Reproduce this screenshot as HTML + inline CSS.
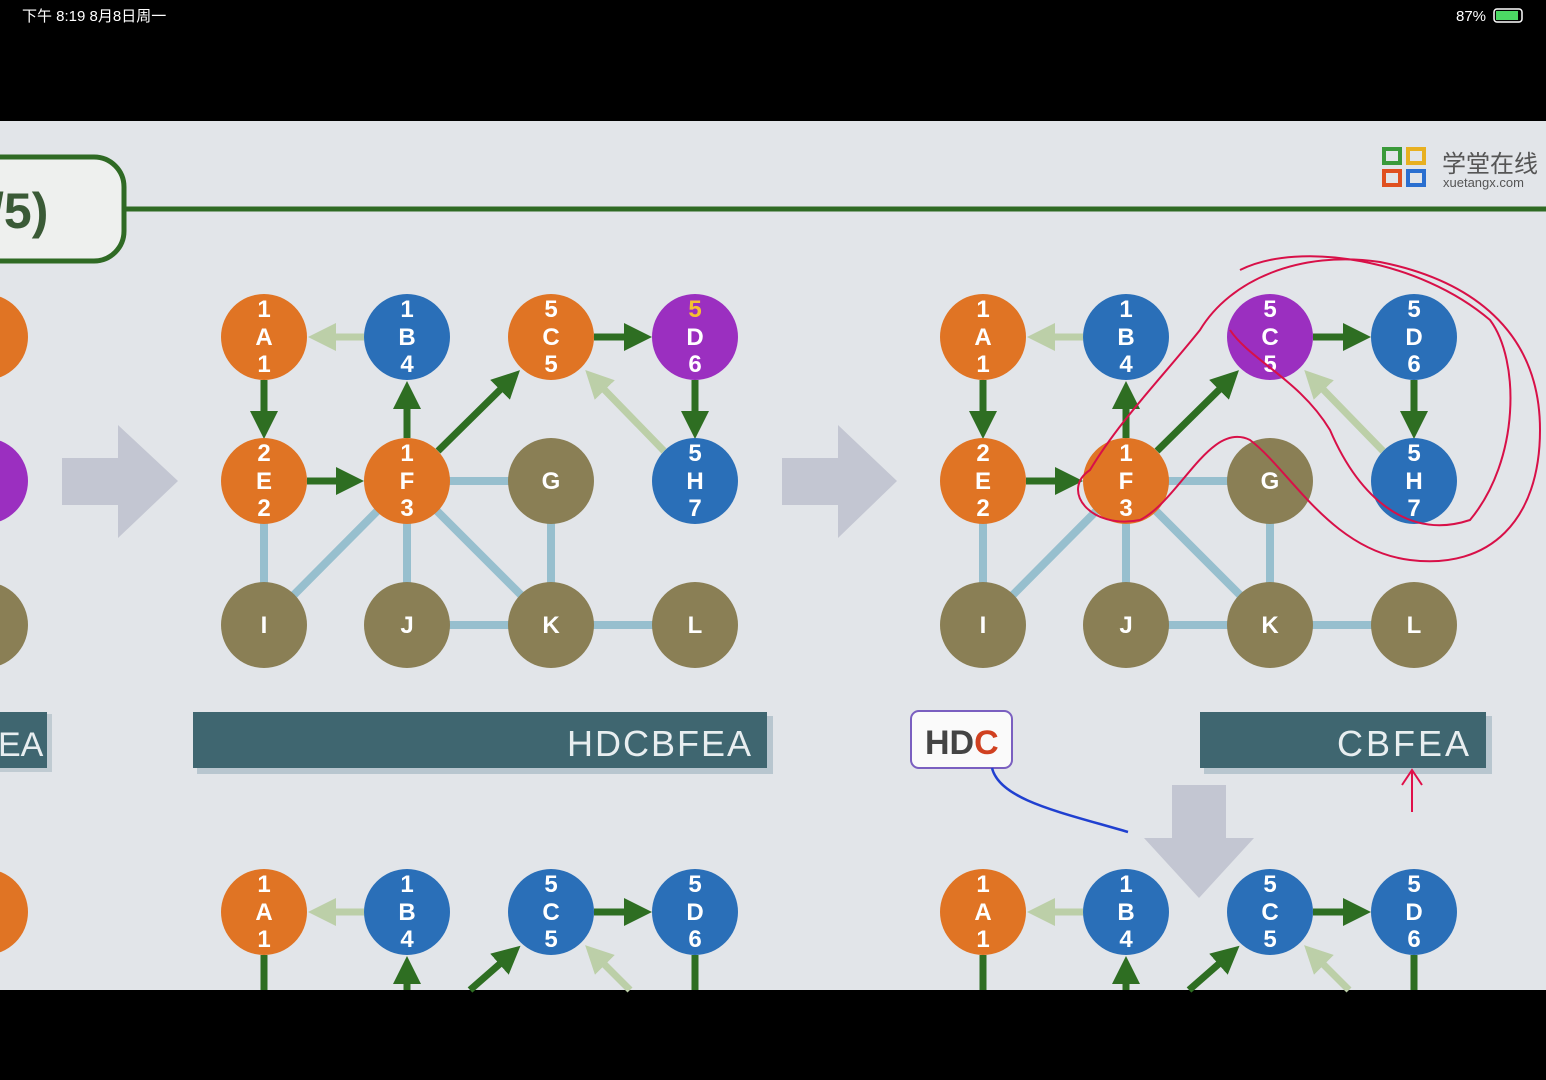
<!DOCTYPE html>
<html><head><meta charset="utf-8"><style>
html,body{margin:0;padding:0;background:#000;width:1546px;height:1080px;overflow:hidden}
svg{display:block}
text{font-family:"Liberation Sans","Noto Sans CJK SC",sans-serif}
.n{font-weight:bold;font-size:24px;fill:#fff;text-anchor:middle}
</style></head><body>
<svg width="1546" height="1080" viewBox="0 0 1546 1080" xmlns="http://www.w3.org/2000/svg">
<defs>
<marker id="ag" markerWidth="4" markerHeight="4" refX="2" refY="2" orient="auto" markerUnits="strokeWidth"><path d="M0,0 L4,2 L0,4z" fill="#2e6e22"/></marker>
<marker id="al" markerWidth="4" markerHeight="4" refX="2" refY="2" orient="auto" markerUnits="strokeWidth"><path d="M0,0 L4,2 L0,4z" fill="#bccfa8"/></marker>
</defs>
<rect x="0" y="0" width="1546" height="1080" fill="#000"/>
<text x="22" y="21" font-size="15" fill="#fff" font-family="Liberation Sans,Noto Sans CJK SC,sans-serif">下午 8:19   8月8日周一</text>
<text x="1456" y="21" font-size="15" fill="#fff">87%</text>
<rect x="1494" y="9" width="28" height="13" rx="3" fill="none" stroke="#fff" stroke-width="1.5"/>
<rect x="1496" y="11" width="22" height="9" fill="#4cd964"/>
<rect x="0" y="121" width="1546" height="869" fill="#e2e5e9"/>
<!-- header -->
<line x1="120" y1="209" x2="1546" y2="209" stroke="#2f6a24" stroke-width="5"/>
<rect x="-40" y="157" width="164" height="104" rx="30" fill="#eef0ee" stroke="#2f6a24" stroke-width="5"/>
<text x="-10" y="228" font-size="50" font-weight="bold" fill="#3a5a36">/5)</text>
<!-- logo -->
<g stroke-width="4" fill="none">
<rect x="1384" y="149" width="16" height="14" stroke="#3a9a3a"/><rect x="1408" y="149" width="16" height="14" stroke="#e8b020"/>
<rect x="1384" y="171" width="16" height="14" stroke="#e05020"/><rect x="1408" y="171" width="16" height="14" stroke="#2a6fd0"/>
</g>
<text x="1442" y="172" font-size="24" fill="#555">学堂在线</text>
<text x="1443" y="187" font-size="13" fill="#555">xuetangx.com</text>
<!-- big arrows -->
<path d="M62,458 H118 V425 L178,481 L118,538 V505 H62z" fill="#c3c6d2"/>
<path d="M782,458 H838 V425 L897,481 L838,538 V505 H782z" fill="#c3c6d2"/>
<path d="M1172,785 H1226 V838 H1254 L1199,898 L1144,838 H1172z" fill="#c3c6d2"/>
<!-- left graph edges -->
<g stroke="#97bfce" stroke-width="8">
<line x1="264" y1="481" x2="264" y2="625"/><line x1="407" y1="481" x2="264" y2="625"/><line x1="407" y1="481" x2="407" y2="625"/>
<line x1="407" y1="481" x2="551" y2="625"/><line x1="407" y1="481" x2="551" y2="481"/><line x1="551" y1="481" x2="551" y2="625"/>
<line x1="407" y1="625" x2="695" y2="625"/>
<line x1="983" y1="481" x2="983" y2="625"/><line x1="1126" y1="481" x2="983" y2="625"/><line x1="1126" y1="481" x2="1126" y2="625"/>
<line x1="1126" y1="481" x2="1270" y2="625"/><line x1="1126" y1="481" x2="1270" y2="481"/><line x1="1270" y1="481" x2="1270" y2="625"/>
<line x1="1126" y1="625" x2="1414" y2="625"/>
</g>
<g stroke-width="7" fill="none">
<line x1="364" y1="337" x2="322" y2="337" stroke="#bccfa8" marker-end="url(#al)"/>
<line x1="264" y1="380" x2="264" y2="425" stroke="#2e6e22" marker-end="url(#ag)"/>
<line x1="307" y1="481" x2="350" y2="481" stroke="#2e6e22" marker-end="url(#ag)"/>
<line x1="407" y1="438" x2="407" y2="395" stroke="#2e6e22" marker-end="url(#ag)"/>
<line x1="438" y1="451" x2="510" y2="380" stroke="#2e6e22" marker-end="url(#ag)"/>
<line x1="594" y1="337" x2="638" y2="337" stroke="#2e6e22" marker-end="url(#ag)"/>
<line x1="695" y1="380" x2="695" y2="425" stroke="#2e6e22" marker-end="url(#ag)"/>
<line x1="664" y1="451" x2="595" y2="380" stroke="#bccfa8" marker-end="url(#al)"/>
<line x1="1083" y1="337" x2="1041" y2="337" stroke="#bccfa8" marker-end="url(#al)"/>
<line x1="983" y1="380" x2="983" y2="425" stroke="#2e6e22" marker-end="url(#ag)"/>
<line x1="1026" y1="481" x2="1069" y2="481" stroke="#2e6e22" marker-end="url(#ag)"/>
<line x1="1126" y1="438" x2="1126" y2="395" stroke="#2e6e22" marker-end="url(#ag)"/>
<line x1="1157" y1="451" x2="1229" y2="380" stroke="#2e6e22" marker-end="url(#ag)"/>
<line x1="1313" y1="337" x2="1357" y2="337" stroke="#2e6e22" marker-end="url(#ag)"/>
<line x1="1414" y1="380" x2="1414" y2="425" stroke="#2e6e22" marker-end="url(#ag)"/>
<line x1="1383" y1="451" x2="1314" y2="380" stroke="#bccfa8" marker-end="url(#al)"/>
<!-- bottom row -->
<line x1="364" y1="912" x2="322" y2="912" stroke="#bccfa8" marker-end="url(#al)"/>
<line x1="594" y1="912" x2="638" y2="912" stroke="#2e6e22" marker-end="url(#ag)"/>
<line x1="264" y1="955" x2="264" y2="990" stroke="#2e6e22"/>
<line x1="407" y1="990" x2="407" y2="970" stroke="#2e6e22" marker-end="url(#ag)"/>
<line x1="470" y1="990" x2="510" y2="955" stroke="#2e6e22" marker-end="url(#ag)"/>
<line x1="630" y1="990" x2="595" y2="955" stroke="#bccfa8" marker-end="url(#al)"/>
<line x1="695" y1="955" x2="695" y2="990" stroke="#2e6e22"/>
<line x1="1083" y1="912" x2="1041" y2="912" stroke="#bccfa8" marker-end="url(#al)"/>
<line x1="1313" y1="912" x2="1357" y2="912" stroke="#2e6e22" marker-end="url(#ag)"/>
<line x1="983" y1="955" x2="983" y2="990" stroke="#2e6e22"/>
<line x1="1126" y1="990" x2="1126" y2="970" stroke="#2e6e22" marker-end="url(#ag)"/>
<line x1="1189" y1="990" x2="1229" y2="955" stroke="#2e6e22" marker-end="url(#ag)"/>
<line x1="1349" y1="990" x2="1314" y2="955" stroke="#bccfa8" marker-end="url(#al)"/>
<line x1="1414" y1="955" x2="1414" y2="990" stroke="#2e6e22"/>
</g>
<!-- nodes -->
<g>
<circle cx="-15" cy="337" r="43" fill="#e07424"/><circle cx="-15" cy="481" r="43" fill="#9b2fc0"/><circle cx="-15" cy="625" r="43" fill="#8a7f55"/><circle cx="-15" cy="912" r="43" fill="#e07424"/>
<circle cx="264" cy="337" r="43" fill="#e07424"/><circle cx="407" cy="337" r="43" fill="#2a6fb8"/><circle cx="551" cy="337" r="43" fill="#e07424"/><circle cx="695" cy="337" r="43" fill="#9b2fc0"/>
<circle cx="264" cy="481" r="43" fill="#e07424"/><circle cx="407" cy="481" r="43" fill="#e07424"/><circle cx="551" cy="481" r="43" fill="#8a7f55"/><circle cx="695" cy="481" r="43" fill="#2a6fb8"/>
<circle cx="264" cy="625" r="43" fill="#8a7f55"/><circle cx="407" cy="625" r="43" fill="#8a7f55"/><circle cx="551" cy="625" r="43" fill="#8a7f55"/><circle cx="695" cy="625" r="43" fill="#8a7f55"/>
<circle cx="983" cy="337" r="43" fill="#e07424"/><circle cx="1126" cy="337" r="43" fill="#2a6fb8"/><circle cx="1270" cy="337" r="43" fill="#9b2fc0"/><circle cx="1414" cy="337" r="43" fill="#2a6fb8"/>
<circle cx="983" cy="481" r="43" fill="#e07424"/><circle cx="1126" cy="481" r="43" fill="#e07424"/><circle cx="1270" cy="481" r="43" fill="#8a7f55"/><circle cx="1414" cy="481" r="43" fill="#2a6fb8"/>
<circle cx="983" cy="625" r="43" fill="#8a7f55"/><circle cx="1126" cy="625" r="43" fill="#8a7f55"/><circle cx="1270" cy="625" r="43" fill="#8a7f55"/><circle cx="1414" cy="625" r="43" fill="#8a7f55"/>
<circle cx="264" cy="912" r="43" fill="#e07424"/><circle cx="407" cy="912" r="43" fill="#2a6fb8"/><circle cx="551" cy="912" r="43" fill="#2a6fb8"/><circle cx="695" cy="912" r="43" fill="#2a6fb8"/>
<circle cx="983" cy="912" r="43" fill="#e07424"/><circle cx="1126" cy="912" r="43" fill="#2a6fb8"/><circle cx="1270" cy="912" r="43" fill="#2a6fb8"/><circle cx="1414" cy="912" r="43" fill="#2a6fb8"/>
</g>
<g class="n">
<text x="264" y="317" class="n">1</text><text x="264" y="345" class="n">A</text><text x="264" y="372" class="n">1</text>
<text x="407" y="317" class="n">1</text><text x="407" y="345" class="n">B</text><text x="407" y="372" class="n">4</text>
<text x="551" y="317" class="n">5</text><text x="551" y="345" class="n">C</text><text x="551" y="372" class="n">5</text>
<text x="695" y="317" class="n" style="fill:#f5c030">5</text><text x="695" y="345" class="n">D</text><text x="695" y="372" class="n">6</text>
<text x="264" y="461" class="n">2</text><text x="264" y="489" class="n">E</text><text x="264" y="516" class="n">2</text>
<text x="407" y="461" class="n">1</text><text x="407" y="489" class="n">F</text><text x="407" y="516" class="n">3</text>
<text x="551" y="489" class="n">G</text>
<text x="695" y="461" class="n">5</text><text x="695" y="489" class="n">H</text><text x="695" y="516" class="n">7</text>
<text x="264" y="633" class="n">I</text><text x="407" y="633" class="n">J</text><text x="551" y="633" class="n">K</text><text x="695" y="633" class="n">L</text>
<text x="983" y="317" class="n">1</text><text x="983" y="345" class="n">A</text><text x="983" y="372" class="n">1</text>
<text x="1126" y="317" class="n">1</text><text x="1126" y="345" class="n">B</text><text x="1126" y="372" class="n">4</text>
<text x="1270" y="317" class="n">5</text><text x="1270" y="345" class="n">C</text><text x="1270" y="372" class="n">5</text>
<text x="1414" y="317" class="n">5</text><text x="1414" y="345" class="n">D</text><text x="1414" y="372" class="n">6</text>
<text x="983" y="461" class="n">2</text><text x="983" y="489" class="n">E</text><text x="983" y="516" class="n">2</text>
<text x="1126" y="461" class="n">1</text><text x="1126" y="489" class="n">F</text><text x="1126" y="516" class="n">3</text>
<text x="1270" y="489" class="n">G</text>
<text x="1414" y="461" class="n">5</text><text x="1414" y="489" class="n">H</text><text x="1414" y="516" class="n">7</text>
<text x="983" y="633" class="n">I</text><text x="1126" y="633" class="n">J</text><text x="1270" y="633" class="n">K</text><text x="1414" y="633" class="n">L</text>
<text x="264" y="892" class="n">1</text><text x="264" y="920" class="n">A</text><text x="264" y="947" class="n">1</text>
<text x="407" y="892" class="n">1</text><text x="407" y="920" class="n">B</text><text x="407" y="947" class="n">4</text>
<text x="551" y="892" class="n">5</text><text x="551" y="920" class="n">C</text><text x="551" y="947" class="n">5</text>
<text x="695" y="892" class="n">5</text><text x="695" y="920" class="n">D</text><text x="695" y="947" class="n">6</text>
<text x="983" y="892" class="n">1</text><text x="983" y="920" class="n">A</text><text x="983" y="947" class="n">1</text>
<text x="1126" y="892" class="n">1</text><text x="1126" y="920" class="n">B</text><text x="1126" y="947" class="n">4</text>
<text x="1270" y="892" class="n">5</text><text x="1270" y="920" class="n">C</text><text x="1270" y="947" class="n">5</text>
<text x="1414" y="892" class="n">5</text><text x="1414" y="920" class="n">D</text><text x="1414" y="947" class="n">6</text>
</g>
<!-- bars -->
<rect x="-10" y="714" width="62" height="58" fill="#c0cbd2"/><rect x="-10" y="712" width="57" height="56" fill="#3f6670"/>
<text x="-2" y="756" font-size="34" fill="#e8eef0">EA</text>
<rect x="197" y="716" width="576" height="58" fill="#b8c6cf"/><rect x="193" y="712" width="574" height="56" fill="#3f6670"/>
<text x="753" y="756" font-size="36" fill="#e8eef0" text-anchor="end" letter-spacing="2">HDCBFEA</text>
<rect x="1204" y="716" width="288" height="58" fill="#b8c6cf"/><rect x="1200" y="712" width="286" height="56" fill="#3f6670"/>
<text x="1472" y="756" font-size="36" fill="#e8eef0" text-anchor="end" letter-spacing="3">CBFEA</text>
<rect x="911" y="711" width="101" height="57" rx="8" fill="#fafafa" stroke="#7a5fc0" stroke-width="2"/>
<text x="925" y="754" font-size="34" font-weight="bold" fill="#444">HD<tspan fill="#d04020">C</tspan></text>
<!-- annotations -->
<path d="M992,768 C1000,800 1060,812 1128,832" stroke="#2040d0" stroke-width="2.5" fill="none"/>
<path d="M1412,812 L1412,772 M1402,785 L1412,770 L1422,785" stroke="#e0104a" stroke-width="2" fill="none"/>
<g stroke="#d81048" stroke-width="2" fill="none">
<path d="M1090,470 C1120,420 1160,380 1200,330 C1230,280 1300,250 1380,262 C1470,280 1540,330 1540,430 C1540,520 1490,570 1410,560 C1330,550 1290,470 1250,440 C1210,420 1180,500 1140,520 C1090,530 1060,490 1090,470z"/>
<path d="M1240,270 C1300,240 1420,260 1490,320 C1520,360 1520,460 1470,520 C1410,540 1360,500 1330,430 C1300,380 1250,360 1230,330"/>
</g>
</svg>
</body></html>
